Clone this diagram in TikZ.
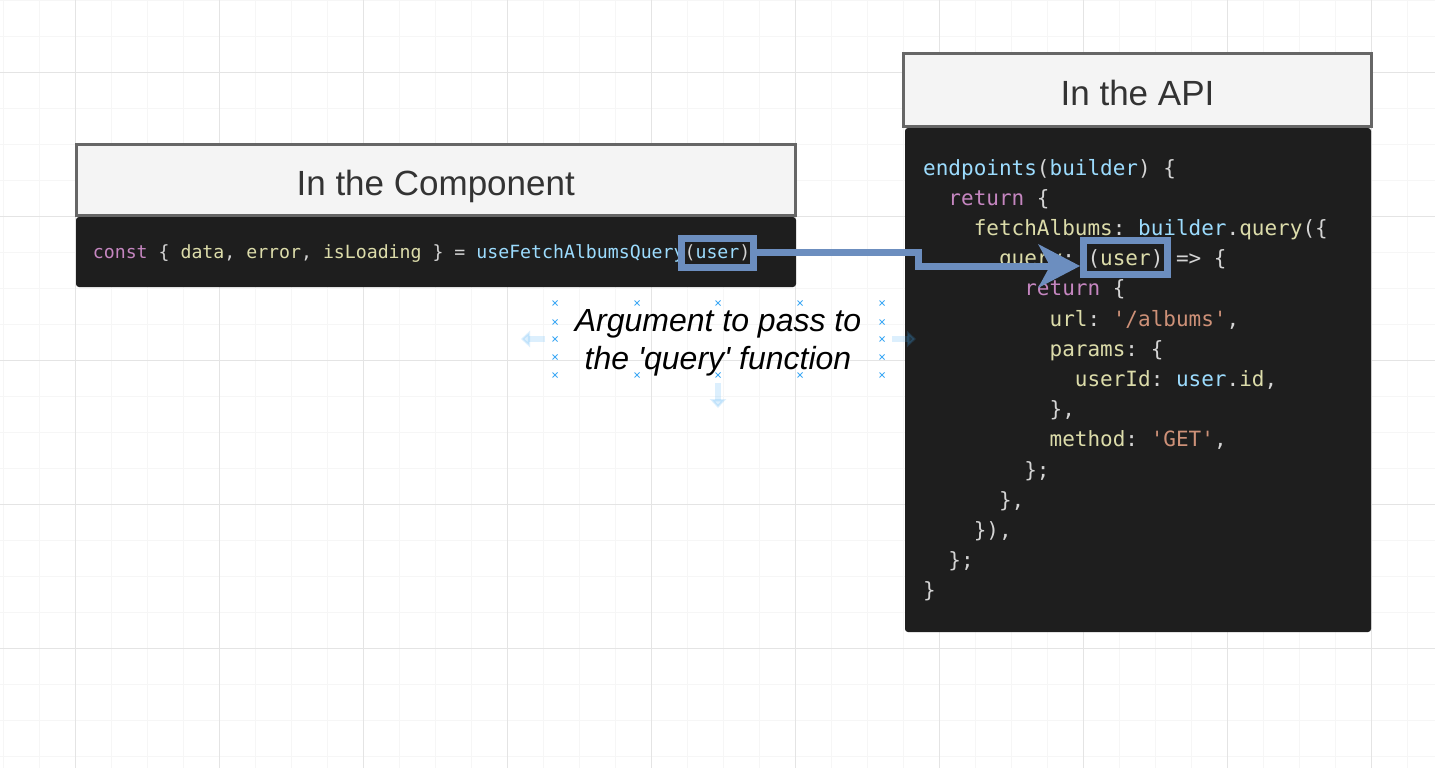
\documentclass[tikz,border=0pt]{standalone}
\usepackage{fontspec}
\newfontfamily\drawfont{Liberation Sans}
\newfontfamily\codefont{DejaVu Sans Mono}
\usepackage{xcolor}
\usepackage{tikz}
\usetikzlibrary{positioning,arrows.meta}

\definecolor{gridmajor}{HTML}{E4E4E4}
\definecolor{gridminor}{HTML}{F6F6F6}
\definecolor{headfill}{HTML}{F4F4F4}
\definecolor{headline}{HTML}{666666}
\definecolor{headtext}{HTML}{333333}
\definecolor{codebg}{HTML}{1E1E1E}
\definecolor{codeplain}{HTML}{D4D4D4}
\definecolor{codekw}{HTML}{C586C0}
\definecolor{codevar}{HTML}{DCDCAA}
\definecolor{codefn}{HTML}{9CDCFE}
\definecolor{codestr}{HTML}{CE9178}
\definecolor{argblue}{HTML}{6C8EBF}
\definecolor{selblue}{HTML}{3FA9F5}

\newcommand{\ckw}[1]{\textcolor{codekw}{#1}}
\newcommand{\cvar}[1]{\textcolor{codevar}{#1}}
\newcommand{\cfn}[1]{\textcolor{codefn}{#1}}
\newcommand{\cstr}[1]{\textcolor{codestr}{#1}}
\newcommand{\ind}[1]{\hspace*{#1\dimexpr 1.2041em\relax}}

\begin{document}
\begin{tikzpicture}[x=1pt,y=-1pt,
  header/.style={draw=headline,line width=3pt,fill=headfill,text=headtext,inner sep=0pt,text height=30pt,text depth=0pt,font=\drawfont\fontsize{35}{42}\selectfont},
  codebox/.style={fill=codebg,rounded corners=3pt,inner sep=0pt},
  codeline/.style={anchor=base west,inner sep=0pt,text=codeplain,font=\codefont\frenchspacing\fontsize{21}{30}\selectfont},
  argbox/.style={draw=argblue,line width=7pt,inner sep=0pt},
  handle/.style={selblue,line width=0.9pt},
  hover/.style={selblue,opacity=0.18,line width=6pt,-{Triangle[length=9pt,width=16pt]}}]
\useasboundingbox (0,0) rectangle (1435,768);
\fill[white] (0,0) rectangle (1435,768);
\foreach \gx in {3,39,...,1435} \draw[gridminor] (\gx,0) -- (\gx,768);
\foreach \gy in {0,36,...,768} \draw[gridminor] (0,\gy) -- (1435,\gy);
\foreach \gx in {75,219,...,1435} \draw[gridmajor] (\gx,0) -- (\gx,768);
\foreach \gy in {72,216,...,768} \draw[gridmajor] (0,\gy) -- (1435,\gy);

\node (comphead) [header,minimum width=718.5pt,minimum height=71pt] at (435.75,180) {In the Component};
\node (compcode) [codebox,minimum width=720pt,minimum height=70pt] at (436,252) {};
\node (compline) [codeline,font=\codefont\frenchspacing\fontsize{18.2}{22}\selectfont] at (92.7,258)
  {\ckw{const} \{ \cvar{data}, \cvar{error}, \cvar{isLoading} \} = \cfn{useFetchAlbumsQuery}(\cfn{user})};

\node (apihead) [header,minimum width=468pt,minimum height=73pt] at (1137.5,90) {In the API};
\node (apicode) [codebox,minimum width=466pt,minimum height=504pt] at (1138,380) {};
\foreach \txt [count=\k from 0] in {
  {\cfn{endpoints}(\cfn{builder}) \{},
  {\ind{1}\ckw{return} \{},
  {\ind{2}\cvar{fetchAlbums}: \cfn{builder}.\cvar{query}(\{},
  {\ind{3}\cvar{query}: (\cvar{user}) => \{},
  {\ind{4}\ckw{return} \{},
  {\ind{5}\cvar{url}: \cstr{'/albums'},},
  {\ind{5}\cvar{params}: \{},
  {\ind{6}\cvar{userId}: \cfn{user}.\cvar{id},},
  {\ind{5}\},},
  {\ind{5}\cvar{method}: \cstr{'GET'},},
  {\ind{4}\};},
  {\ind{3}\},},
  {\ind{2}\}),},
  {\ind{1}\};},
  {\}}}
  \node (apiline\k) [codeline] at (923,175+30.2*\k) {\txt};

\node (argnote) [font=\drawfont\itshape\fontsize{32}{38}\selectfont,align=center,inner sep=0pt] at (718,343)
  {Argument to pass to\\the 'query' function};
\foreach \hx in {555,637,718,800,882}
  \foreach \hy in {303,375}
    \draw[handle] (\hx-2.5,\hy-2.5) -- (\hx+2.5,\hy+2.5) (\hx-2.5,\hy+2.5) -- (\hx+2.5,\hy-2.5);
\foreach \hx in {555,882}
  \foreach \hy in {322,339,357}
    \draw[handle] (\hx-2.5,\hy-2.5) -- (\hx+2.5,\hy+2.5) (\hx-2.5,\hy+2.5) -- (\hx+2.5,\hy-2.5);
\draw[hover] (545,339) -- (521,339);
\draw[hover] (892,339) -- (916,339);
\draw[hover] (718,383) -- (718,408);

\node (userL) [argbox,minimum width=72pt,minimum height=28.5pt] at (717,252.75) {};
\node (userR) [argbox,minimum width=84pt,minimum height=34pt] at (1125.5,257.5) {};
\coordinate (bendA) at (918,252.75);
\coordinate (bendB) at (918,266);
\draw[argblue,line width=7pt,-{Stealth[length=42pt,width=44pt,inset=12pt,line width=0pt]}]
  (userL.east) -- (bendA) -- (bendB) -- (bendB -| userR.west);
\end{tikzpicture}
\end{document}
